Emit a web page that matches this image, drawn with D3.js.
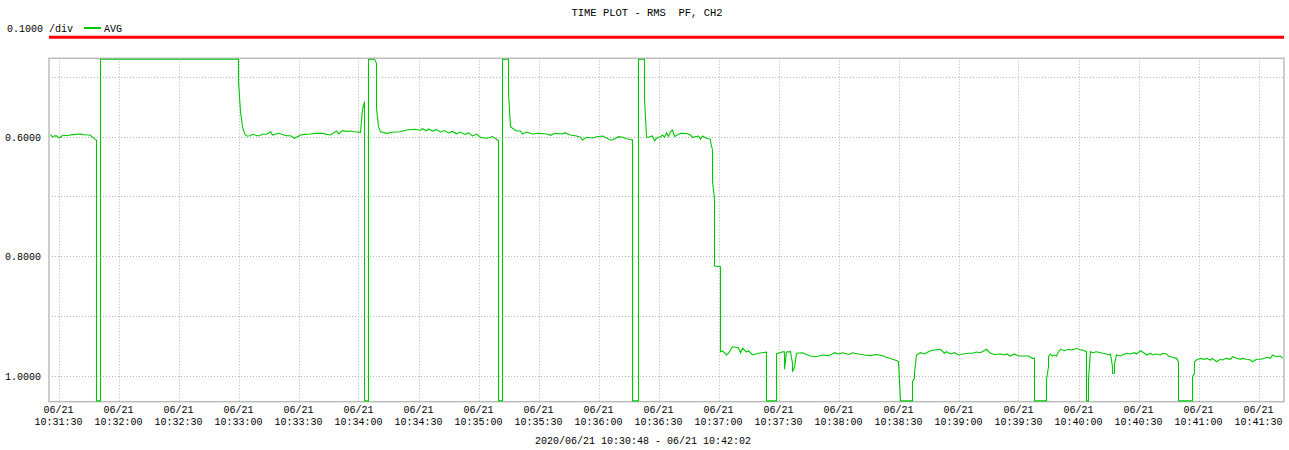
<!DOCTYPE html>
<html>
<head>
<meta charset="utf-8">
<script src="https://cdn.jsdelivr.net/npm/d3@7"></script>
<style>
  html, body { margin: 0; padding: 0; background: #fff; }
  svg text { font-family: "Liberation Mono", "DejaVu Sans Mono", monospace; fill: #000; white-space: pre; }
</style>
</head>
<body>
<svg id="chart" width="1289" height="450"></svg>
<script>
// ---------- data ----------
const chartTitle = "TIME PLOT - RMS  PF, CH2";
const rangeLabel = "2020/06/21 10:30:48 - 06/21 10:42:02";
const dateLabel = "06/21";
const divLabel = "0.1000 /div";
const seriesName = "AVG";
const yTickValues = [0.6, 0.8, 1.0];
const yGridValues = [0.5, 0.6, 0.7, 0.8, 0.9, 1.0];
const xTickTimes = ["10:31:30","10:32:00","10:32:30","10:33:00","10:33:30","10:34:00","10:34:30","10:35:00","10:35:30","10:36:00","10:36:30","10:37:00","10:37:30","10:38:00","10:38:30","10:39:00","10:39:30","10:40:00","10:40:30","10:41:00","10:41:30"];

// samples (time, PF value); values off-scale are drawn at the frame edge
const times = [
"10:31:26","10:31:27","10:31:28","10:31:29","10:31:30","10:31:31","10:31:32","10:31:33","10:31:34","10:31:35","10:31:37","10:31:38","10:31:40","10:31:41","10:31:43","10:31:45","10:31:46","10:31:47","10:31:48","10:31:49",
"10:31:49","10:31:51","10:31:51","10:33:00","10:33:00","10:33:01","10:33:02","10:33:03","10:33:04",
"10:33:06","10:33:07","10:33:10","10:33:12","10:33:14","10:33:16","10:33:17","10:33:20","10:33:24","10:33:26","10:33:28","10:33:31","10:33:33","10:33:36","10:33:39","10:33:42","10:33:44","10:33:46","10:33:49","10:33:50","10:33:52","10:33:54","10:33:56","10:33:58","10:34:01","10:34:02","10:34:03",
"10:34:03","10:34:05","10:34:05","10:34:08","10:34:09","10:34:09","10:34:10","10:34:11",
"10:34:14","10:34:17","10:34:21","10:34:24","10:34:28","10:34:31","10:34:32","10:34:34","10:34:35","10:34:37","10:34:39","10:34:41","10:34:43","10:34:45","10:34:47","10:34:49","10:34:51","10:34:53","10:34:55","10:34:57","10:34:59","10:35:01","10:35:04","10:35:07","10:35:09","10:35:10",
"10:35:10","10:35:12","10:35:12","10:35:15","10:35:15","10:35:16","10:35:17","10:35:19","10:35:21","10:35:22","10:35:24","10:35:27","10:35:30","10:35:34","10:35:36","10:35:38","10:35:42","10:35:43","10:35:46","10:35:49","10:35:51","10:35:52","10:35:54","10:35:57","10:35:59","10:36:02","10:36:06","10:36:07","10:36:10","10:36:12","10:36:15","10:36:17",
"10:36:17","10:36:20","10:36:20","10:36:23","10:36:23","10:36:24","10:36:25","10:36:27","10:36:28","10:36:29","10:36:31","10:36:32","10:36:33","10:36:34","10:36:35","10:36:36","10:36:37","10:36:38","10:36:41","10:36:44","10:36:46","10:36:47","10:36:50","10:36:51","10:36:52","10:36:54","10:36:56",
"10:36:56","10:36:57","10:36:57","10:36:58","10:36:58","10:37:01","10:37:01","10:37:02","10:37:04","10:37:05","10:37:07","10:37:10","10:37:11","10:37:12","10:37:14","10:37:15","10:37:17","10:37:20","10:37:24",
"10:37:24","10:37:29","10:37:29","10:37:32","10:37:33","10:37:33","10:37:34","10:37:36","10:37:37","10:37:37","10:37:38","10:37:39","10:37:42","10:37:44","10:37:46","10:37:49","10:37:52","10:37:55","10:37:57","10:37:58","10:38:00","10:38:02","10:38:05","10:38:07","10:38:10","10:38:13","10:38:16","10:38:19","10:38:22","10:38:24","10:38:27","10:38:29","10:38:30",
"10:38:31","10:38:37","10:38:37","10:38:38","10:38:38","10:38:39","10:38:41","10:38:43","10:38:44","10:38:46","10:38:48","10:38:51","10:38:53","10:38:54","10:38:56","10:38:58","10:39:00","10:39:02","10:39:05","10:39:07","10:39:09","10:39:11","10:39:14","10:39:16","10:39:18","10:39:21","10:39:23","10:39:24","10:39:26","10:39:28","10:39:30","10:39:32","10:39:35","10:39:37","10:39:38",
"10:39:38","10:39:44","10:39:44","10:39:45","10:39:45","10:39:46","10:39:47","10:39:48","10:39:49","10:39:50","10:39:51","10:39:53","10:39:55","10:39:56","10:39:58","10:39:59","10:40:01","10:40:02","10:40:04",
"10:40:04","10:40:04","10:40:05","10:40:05","10:40:06","10:40:07","10:40:09","10:40:11","10:40:12","10:40:14","10:40:15","10:40:16","10:40:17","10:40:17","10:40:18","10:40:18","10:40:19","10:40:21","10:40:22","10:40:24","10:40:26","10:40:28","10:40:29","10:40:31","10:40:33","10:40:34","10:40:36","10:40:37","10:40:39","10:40:41","10:40:42","10:40:44","10:40:45","10:40:47","10:40:49","10:40:50",
"10:40:50","10:40:57","10:40:57","10:40:58","10:40:58","10:40:59","10:41:01","10:41:03","10:41:04","10:41:06","10:41:07","10:41:09","10:41:11","10:41:12","10:41:14","10:41:16","10:41:17","10:41:19","10:41:21","10:41:22","10:41:24","10:41:26","10:41:27","10:41:29","10:41:31","10:41:33","10:41:34","10:41:36","10:41:37","10:41:39","10:41:41","10:41:42"
];
const avgValues = [
0.5965,0.601,0.599,0.599,0.602,0.6015,0.598,0.598,0.5985,0.598,0.5968,0.597,0.596,0.596,0.597,0.5975,0.598,0.601,0.604,0.606,
1.10,1.10,0.40,0.40,0.5085,0.5586,0.5836,0.5947,0.5992,
0.5987,0.5963,0.5992,0.5963,0.5963,0.5920,0.5975,0.5947,0.5987,0.5987,0.6030,0.5975,0.5965,0.5958,0.5947,0.5947,0.5965,0.5975,0.5908,0.5958,0.5903,0.5915,0.5908,0.5920,0.5930,0.5550,0.5419,
1.10,1.10,0.40,0.40,0.4777,0.5529,0.5836,0.5920,
0.5947,0.5930,0.5920,0.5891,0.5880,0.5895,0.5870,0.5905,0.5875,0.5910,0.5885,0.5925,0.5900,0.5940,0.5915,0.5955,0.5925,0.5965,0.5940,0.5990,0.5960,0.6013,0.6030,0.6000,0.6047,0.6070,
1.10,1.10,0.40,0.40,0.5268,0.5836,0.5863,0.5908,0.5908,0.5958,0.5925,0.5958,0.5947,0.5958,0.5980,0.5947,0.5958,0.5937,0.5975,0.5992,0.6013,0.6058,0.6013,0.6025,0.6003,0.5992,0.6058,0.6058,0.6003,0.6013,0.6047,0.6058,
1.10,1.10,0.40,0.40,0.5360,0.6013,0.6013,0.5992,0.6070,0.6030,0.6003,0.5975,0.6013,0.5937,0.6000,0.5920,0.5891,0.6000,0.5947,0.5950,0.5975,0.6013,0.5992,0.6047,0.5992,0.6030,0.6047,
0.6087,0.6225,0.6755,0.7032,0.8163,0.8175,0.9594,0.9582,0.9649,0.9620,0.9511,0.9527,0.9611,0.9537,0.9600,0.9579,0.9649,0.9620,0.9603,
1.10,1.10,0.9631,0.9594,0.9600,0.9888,0.9600,0.9594,0.9788,0.9928,0.9850,0.9621,0.9611,0.9640,0.9666,0.9678,0.9650,0.9660,0.9632,0.9611,0.9632,0.9611,0.9640,0.9611,0.9632,0.9650,0.9660,0.9640,0.9660,0.9688,0.9721,0.9740,0.9761,
1.10,1.10,1.0095,1.0038,0.9955,0.9649,0.9611,0.9632,0.9611,0.9577,0.9566,0.9554,0.9620,0.9594,0.9632,0.9611,0.9649,0.9632,0.9621,0.9620,0.9600,0.9611,0.9554,0.9621,0.9640,0.9632,0.9649,0.9632,0.9666,0.9632,0.9666,0.9666,0.9666,0.9705,0.9705,
1.10,1.10,1.0055,0.9845,0.9678,0.9632,0.9666,0.9649,0.9666,0.9594,0.9554,0.9577,0.9554,0.9566,0.9554,0.9537,0.9566,0.9566,0.9594,
1.0055,1.10,1.10,1.0055,0.9594,0.9611,0.9594,0.9611,0.9620,0.9632,0.9649,0.9632,0.9845,0.9955,0.9955,0.9800,0.9649,0.9666,0.9649,0.9621,0.9632,0.9611,0.9632,0.9577,0.9620,0.9649,0.9620,0.9649,0.9632,0.9649,0.9620,0.9632,0.9666,0.9688,0.9705,0.9761,
1.10,1.10,1.0012,0.9955,0.9761,0.9733,0.9705,0.9721,0.9705,0.9733,0.9705,0.9761,0.9721,0.9733,0.9705,0.9721,0.9678,0.9705,0.9721,0.9705,0.9721,0.9733,0.9761,0.9721,0.9721,0.9705,0.9688,0.9705,0.9649,0.9678,0.9666,0.9705
];

// ---------- drawing ----------
const plot = { left: 49, right: 1284, top: 58.3, bottom: 401.7 };
const parseT = d3.timeParse("%H:%M:%S");
const svg = d3.select("#chart");

const t0 = new Date(parseT("10:31:25").getTime() + 250);
const t1 = new Date(parseT("10:41:42").getTime() + 750);
const x = d3.scaleTime().domain([t0, t1]).range([plot.left, plot.right]);
const y = d3.scaleLinear().domain([0.4694, 1.0429]).range([plot.top, plot.bottom]);

// grid
const grid = svg.append("g");
grid.selectAll("line.h").data(yGridValues).join("line")
  .attr("x1", plot.left).attr("x2", plot.right)
  .attr("y1", d => Math.round(y(d)) + 0.5).attr("y2", d => Math.round(y(d)) + 0.5)
  .attr("stroke", "#b4b4b4").attr("stroke-width", 1).attr("stroke-dasharray", "1,2");
grid.selectAll("line.v").data(xTickTimes.map(parseT)).join("line")
  .attr("x1", d => Math.round(x(d)) + 0.5).attr("x2", d => Math.round(x(d)) + 0.5)
  .attr("y1", plot.top).attr("y2", plot.bottom)
  .attr("stroke", "#b4b4b4").attr("stroke-width", 1).attr("stroke-dasharray", "1,2");

// frame
svg.append("rect")
  .attr("x", plot.left).attr("y", plot.top)
  .attr("width", plot.right - plot.left).attr("height", plot.bottom - plot.top)
  .attr("fill", "none").attr("stroke", "#bdbdbd").attr("stroke-width", 1.5);

// series
const pts = times.map((t, i) => ({ t: parseT(t), v: avgValues[i] }));
const line = d3.line()
  .x(d => x(d.t))
  .y(d => Math.max(plot.top + 1, Math.min(plot.bottom - 0.8, y(d.v))));
svg.append("path").datum(pts)
  .attr("d", line)
  .attr("fill", "none").attr("stroke", "#00c800").attr("stroke-width", 1.1)
  .attr("stroke-linejoin", "miter");

// y labels
svg.append("g").selectAll("text").data(yTickValues).join("text")
  .attr("x", 41).attr("y", d => y(d) + 4)
  .attr("text-anchor", "end").attr("font-size", "10px")
  .text(d => d3.format(".4f")(d));

// x labels
const xl = svg.append("g").selectAll("g").data(xTickTimes).join("g")
  .attr("transform", d => `translate(${x(parseT(d))},0)`);
xl.append("text").attr("y", 413).attr("text-anchor", "middle").attr("font-size", "10px").text(dateLabel);
xl.append("text").attr("y", 425).attr("text-anchor", "middle").attr("font-size", "10px").text(d => d);

// title & range label
svg.append("text").attr("x", 647).attr("y", 16).attr("text-anchor", "middle")
  .attr("font-size", "10.5px").attr("xml:space", "preserve").text(chartTitle);
svg.append("text").attr("x", 643).attr("y", 444).attr("text-anchor", "middle")
  .attr("font-size", "10px").text(rangeLabel);

// legend
svg.append("text").attr("x", 7).attr("y", 32).attr("font-size", "10px").attr("xml:space", "preserve").text(divLabel);
svg.append("line").attr("x1", 84).attr("x2", 101).attr("y1", 28).attr("y2", 28)
  .attr("stroke", "#00c800").attr("stroke-width", 2);
svg.append("text").attr("x", 104).attr("y", 32).attr("font-size", "10px").text(seriesName);

// red bar
svg.append("line").attr("x1", plot.left).attr("x2", plot.right).attr("y1", 37.3).attr("y2", 37.3)
  .attr("stroke", "#ff0000").attr("stroke-width", 3);
</script>
</body>
</html>
